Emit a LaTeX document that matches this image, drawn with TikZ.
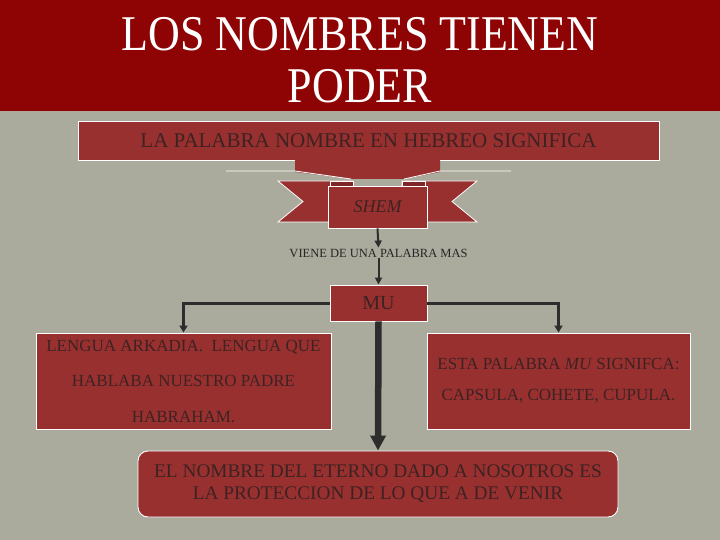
\documentclass[tikz,border=0pt]{standalone}
\usepackage{fontspec}
\setmainfont{Liberation Serif}
\usetikzlibrary{arrows.meta}
\definecolor{bgc}{RGB}{170,170,157}
\definecolor{barc}{RGB}{142,4,4}
\definecolor{boxc}{RGB}{152,48,48}
\definecolor{foldc}{RGB}{128,38,38}
\definecolor{txtc}{RGB}{62,34,34}
\definecolor{linec}{RGB}{45,45,45}
\tikzset{
  redbox/.style={draw=white, line width=0.9pt, fill=boxc, text=txtc, inner sep=0pt, align=center},
  ribbonpart/.style={draw=white, line width=0.8pt, fill=boxc},
  titletext/.style={text=white, inner sep=0pt, font=\fontsize{50}{56}\selectfont},
  thinconn/.style={draw=linec, line width=2pt, -{Triangle[width=7pt,length=7pt]}},
  midconn/.style={draw=linec, line width=3pt, -{Triangle[width=8pt,length=7pt]}},
  bigconn/.style={draw=linec, line width=6.5pt, -{Triangle[width=15pt,length=15pt]}},
}
\begin{document}
\begin{tikzpicture}[x=1pt,y=-1pt]
\useasboundingbox (0,0) rectangle (720,540);
\fill[bgc] (0,0) rectangle (720,540);
\fill[barc] (0,0) rectangle (720,111);
\node[titletext, anchor=base] (t1) at (360,51) {\scalebox{0.88}[1]{LOS NOMBRES TIENEN}};
\node[titletext, anchor=base] (t2) at (360,103) {\scalebox{0.88}[1]{PODER}};

% top box with banner drop
\node[redbox, minimum width=581pt, minimum height=39pt, font=\fontsize{21}{24}\selectfont] (top) at (368.5,140.5) {LA PALABRA NOMBRE EN HEBREO SIGNIFICA};
\fill[boxc] (295,159) -- (440,159) -- (440,172) -- (404,179) -- (351,179) -- (295,172) -- cycle;
\draw[white, line width=0.8pt] (226,171) -- (295,171) -- (351,179);
\draw[white, line width=0.8pt] (511,171) -- (440,171) -- (404,179);

% ribbon tails and folds
\draw[ribbonpart] (278,181) -- (353,181) -- (353,222) -- (278,222) -- (303,201.5) -- cycle;
\draw[ribbonpart] (477,181) -- (402,181) -- (402,222) -- (477,222) -- (452,201.5) -- cycle;
\draw[ribbonpart, fill=foldc] (330,181) rectangle (353,187);
\draw[ribbonpart, fill=foldc] (402,181) rectangle (425,187);
\node[redbox, minimum width=99pt, minimum height=42pt, font=\fontsize{18}{20}\selectfont\itshape] (shem) at (377.5,207) {SHEM};

\node[inner sep=1pt, text=black!85, font=\fontsize{12.5}{14}\selectfont] (viene) at (378.5,253) {VIENE DE UNA PALABRA MAS};

\node[redbox, minimum width=97pt, minimum height=36pt, font=\fontsize{20}{22}\selectfont] (mu) at (378.5,303) {MU};

\node[redbox, minimum width=295pt, minimum height=96pt, font=\fontsize{17}{35.5}\selectfont] (lbox) at (183.5,381) {LENGUA ARKADIA.\ \ LENGUA QUE\\HABLABA NUESTRO PADRE\\HABRAHAM.};

\node[redbox, minimum width=263pt, minimum height=96pt, font=\fontsize{17}{31}\selectfont] (rbox) at (558.5,381) {ESTA PALABRA \textit{MU} SIGNIFCA:\\CAPSULA, COHETE, CUPULA.};

\node[redbox, rounded corners=10pt, minimum width=480pt, minimum height=66pt, font=\fontsize{19.3}{22}\selectfont] (bot) at (378,484) {EL NOMBRE DEL ETERNO DADO A NOSOTROS ES\\LA PROTECCION DE LO QUE A DE VENIR};

\draw[thinconn] (shem.south) -- (viene.north);
\draw[thinconn] (viene.south) -- (mu.north);
\draw[midconn] (mu.west) -| (lbox.north);
\draw[midconn] (mu.east) -| (rbox.north);
\draw[bigconn] (mu.south) -- (bot.north);
\end{tikzpicture}
\end{document}
